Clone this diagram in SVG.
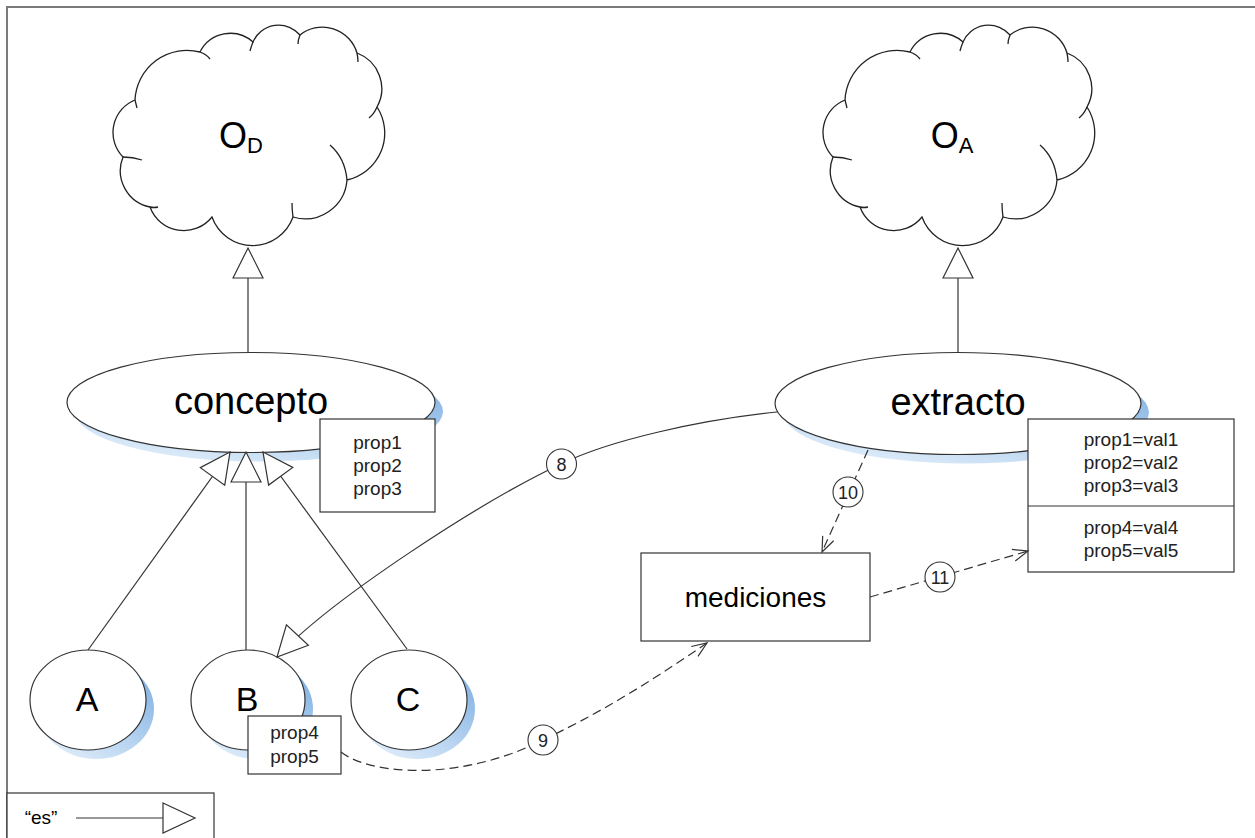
<svg xmlns="http://www.w3.org/2000/svg" xmlns:xlink="http://www.w3.org/1999/xlink" width="1255" height="838" viewBox="0 0 1255 838">
  <style>
    .ln { fill: none; stroke: #333; stroke-width: 1.2; }
    .dash { fill: none; stroke: #333; stroke-width: 1.2; stroke-dasharray: 9 5; }
    .body { fill: #fff; stroke: #333; stroke-width: 1.2; }
    .shadow { fill: url(#shadowGrad); }
    .box { fill: #fff; stroke: #333; stroke-width: 1.2; }
    .cloud { fill: #fff; stroke: #222; stroke-width: 1.3; }
    .t { font-family: "Liberation Sans", Arial, sans-serif; fill: #000; text-anchor: middle; }
    .big { font-size: 38px; }
    .mid { font-size: 28px; }
    .letter { font-size: 34px; }
    .prop { font-size: 19px; fill: #222; }
    .num { font-size: 18px; fill: #222; }
    .lab { fill: #fff; stroke: #333; stroke-width: 1.1; }
  </style>
  <defs>
    <linearGradient id="shadowGrad" x1="0.9" y1="0.2" x2="0.35" y2="1">
      <stop offset="0" stop-color="#86b4e4"/>
      <stop offset="1" stop-color="#d9e9f8"/>
    </linearGradient>
    <marker id="tri" markerUnits="userSpaceOnUse" markerWidth="34" markerHeight="34" viewBox="-2 -2 34 34" refX="30" refY="15" orient="auto">
      <path d="M0,0 L30,15 L0,30 Z" fill="#fff" stroke="#333" stroke-width="1.2" stroke-dasharray="none"/>
    </marker>
    <marker id="open" markerUnits="userSpaceOnUse" markerWidth="20" markerHeight="20" viewBox="-2 -2 20 18" refX="15" refY="6" orient="auto">
      <path d="M0,0 L15,6 L0,12" fill="none" stroke="#333" stroke-width="1.2" stroke-dasharray="none"/>
    </marker>
    <g id="cloudShape">
      <path class="cloud" d="M200,52 A34,34 0 0 1 253,42 A28,28 0 0 1 300,35 A36,36 0 0 1 357,53 A38,38 0 0 1 377,107 A48,48 0 0 1 347,180 A42,42 0 0 1 293,217 A43,43 0 0 1 212,217 A36,36 0 0 1 150,207 A37,37 0 0 1 123,157 A35,35 0 0 1 135,100 A52,52 0 0 1 200,52 Z"/>
      <path class="cloud" d="M200,52 q6,2 10,7 M253,42 q-2,5 -3,9 M300,35 q-2,5 -2,9 M357,53 q1,5 1,9 M377,107 q-3,7 -8,11 M347,180 q-2,-22 -17,-35 M293,217 q-1,-7 -1,-14 M123,157 q10,0 19,3 M135,100 q1,4 2,8 M150,207 q4,1 8,0" style="fill:none"/>
    </g>
  </defs>

  <rect x="0" y="0" width="1255" height="838" fill="#fff"/>
  <g id="frame">
    <path d="M7,838 L7,7 L1255,7" fill="none" stroke="#7a7a7a" stroke-width="2"/>
  </g>

  <g id="cloud-OD">
    <use href="#cloudShape" xlink:href="#cloudShape"/>
    <text class="t" x="241" y="148" font-size="36" text-anchor="middle">O<tspan font-size="22" dy="5">D</tspan></text>
  </g>
  <g id="cloud-OA">
    <use href="#cloudShape" xlink:href="#cloudShape" x="710"/>
    <text class="t" x="952" y="148" font-size="36" text-anchor="middle">O<tspan font-size="22" dy="5">A</tspan></text>
  </g>

  <g id="concepto">
    <ellipse class="shadow" cx="259" cy="411.5" rx="184" ry="50"/>
    <ellipse class="body" cx="251" cy="402.5" rx="184" ry="50"/>
    <text class="t big" x="251" y="414">concepto</text>
  </g>
  <g id="extracto">
    <ellipse class="shadow" cx="966" cy="412.5" rx="183" ry="51"/>
    <ellipse class="body" cx="958" cy="403.5" rx="183" ry="51"/>
    <text class="t big" x="958" y="415">extracto</text>
  </g>

  <g id="concepto-props">
    <rect class="box" x="320" y="419" width="115" height="93"/>
    <text class="t prop" x="377.5" y="449">prop1</text>
    <text class="t prop" x="377.5" y="472">prop2</text>
    <text class="t prop" x="377.5" y="495">prop3</text>
  </g>
  <g id="extracto-props">
    <rect class="box" x="1028" y="419" width="206" height="153"/>
    <line x1="1028" y1="506" x2="1234" y2="506" stroke="#333" stroke-width="1.2"/>
    <text class="t prop" x="1131" y="446">prop1=val1</text>
    <text class="t prop" x="1131" y="469">prop2=val2</text>
    <text class="t prop" x="1131" y="492">prop3=val3</text>
    <text class="t prop" x="1131" y="534">prop4=val4</text>
    <text class="t prop" x="1131" y="557">prop5=val5</text>
  </g>

  <g id="mediciones">
    <rect class="box" x="641" y="553" width="229" height="88"/>
    <text class="t mid" x="755.5" y="607">mediciones</text>
  </g>

  <g id="A">
    <ellipse class="shadow" cx="96" cy="709" rx="58" ry="50"/>
    <ellipse class="body" cx="88" cy="700" rx="58" ry="50"/>
    <text class="t letter" x="87" y="711">A</text>
  </g>
  <g id="B">
    <ellipse class="shadow" cx="256" cy="709" rx="57" ry="50"/>
    <ellipse class="body" cx="248" cy="700" rx="57" ry="50"/>
    <text class="t letter" x="247" y="711">B</text>
  </g>
  <g id="C">
    <ellipse class="shadow" cx="417" cy="709" rx="58" ry="50"/>
    <ellipse class="body" cx="409" cy="700" rx="58" ry="50"/>
    <text class="t letter" x="408" y="711">C</text>
  </g>
  <g id="B-props">
    <rect class="box" x="248" y="716" width="93" height="58"/>
    <text class="t prop" x="294.5" y="739">prop4</text>
    <text class="t prop" x="294.5" y="763">prop5</text>
  </g>

  <g id="connectors">
    <path class="ln" d="M248,352 L248,248" marker-end="url(#tri)"/>
    <path class="ln" d="M958,352 L958,248" marker-end="url(#tri)"/>
    <path class="ln" d="M88,650 L230,452" marker-end="url(#tri)"/>
    <path class="ln" d="M246,650 L246,452" marker-end="url(#tri)"/>
    <path class="ln" d="M407,649 L263,452" marker-end="url(#tri)"/>
    <path class="ln" d="M777,412 C700,420 610,440 561,464 C480,502 330,600 277,657" marker-end="url(#tri)"/>
    <path class="dash" d="M341,752 C370,775 460,782 543,740 C610,708 660,675 707,643" marker-end="url(#open)"/>
    <path class="dash" d="M868,450 L822,552" marker-end="url(#open)"/>
    <path class="dash" d="M870,597 L1028,551" marker-end="url(#open)"/>

    <g id="label-8">
      <circle class="lab" cx="561.5" cy="464" r="15"/>
      <text class="t num" x="561.5" y="470.5">8</text>
    </g>
    <g id="label-9">
      <circle class="lab" cx="543" cy="740" r="15"/>
      <text class="t num" x="543" y="746.5">9</text>
    </g>
    <g id="label-10">
      <circle class="lab" cx="848" cy="492" r="15"/>
      <text class="t num" x="848" y="498.5">10</text>
    </g>
    <g id="label-11">
      <circle class="lab" cx="940" cy="577" r="15"/>
      <text class="t num" x="940" y="583.5">11</text>
    </g>
  </g>

  <g id="legend">
    <rect class="box" x="7" y="793" width="207" height="60"/>
    <text class="t" x="41" y="824" font-size="19" fill="#222">“es”</text>
    <line x1="76" y1="818" x2="163" y2="818" stroke="#333" stroke-width="1.2"/>
    <path d="M163,803 L195,818 L163,833 Z" fill="#fff" stroke="#333" stroke-width="1.2"/>
  </g>
</svg>
